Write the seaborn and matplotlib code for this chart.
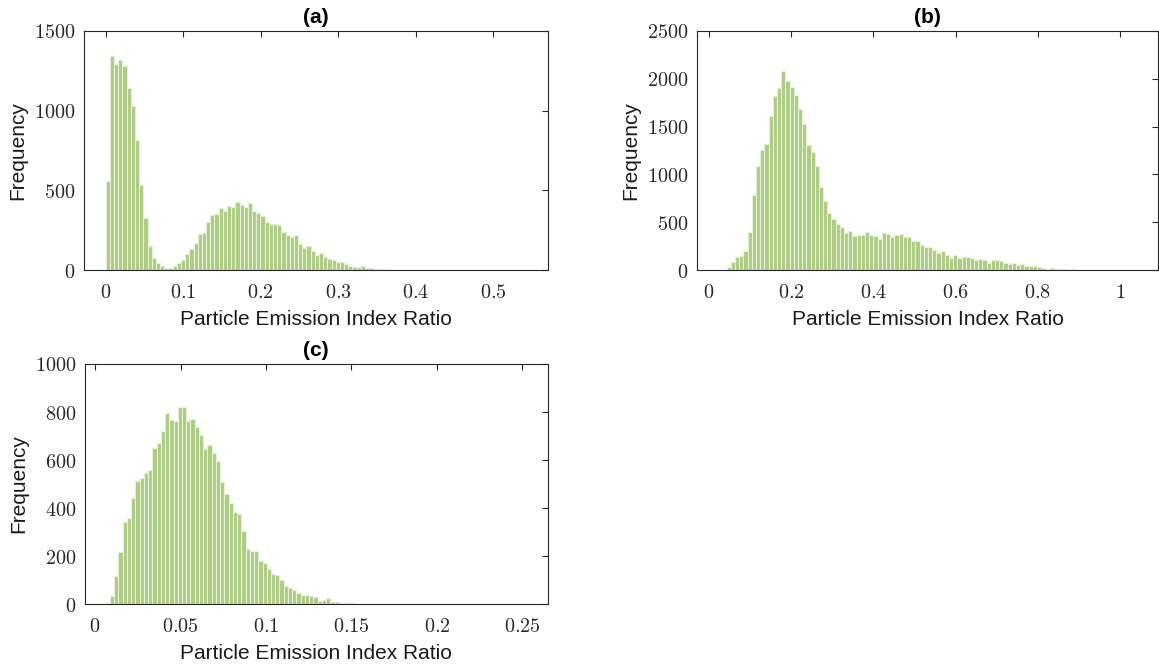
import numpy as np
import pandas as pd
import matplotlib
matplotlib.use("Agg")
import matplotlib.pyplot as plt
import seaborn as sns
from matplotlib.ticker import FuncFormatter

# histogram counts (only visible bins listed)
a_start, a_width = 0.0, 0.0054
a_counts = [559, 1345, 1293, 1316, 1282, 1142, 1027, 814, 533, 326, 151, 75, 42, 23, 10,
            15, 27, 42, 65, 103, 134, 167, 226, 232, 301, 345, 351, 389, 368, 404, 395,
            427, 406, 397, 418, 372, 358, 341, 299, 291, 287, 282, 238, 222, 207, 218,
            163, 136, 151, 119, 94, 109, 82, 67, 63, 50, 50, 36, 25, 21, 17, 25, 13, 13,
            8, 4, 4, 3, 2, 1]

b_start, b_width = 0.043, 0.0102
b_counts = [28, 80, 132, 143, 195, 401, 781, 1091, 1252, 1318, 1607, 1824, 1904, 2078,
            1977, 1918, 1834, 1681, 1527, 1304, 1234, 1091, 872, 725, 600, 530, 481, 446,
            387, 408, 359, 366, 370, 394, 370, 356, 328, 387, 373, 349, 366, 380, 349, 349,
            303, 303, 265, 244, 244, 209, 178, 199, 160, 129, 160, 122, 139, 139, 122, 108,
            115, 101, 73, 108, 101, 98, 70, 63, 70, 56, 63, 45, 38, 42, 31, 21, 14, 21, 14,
            14, 7, 3, 10]

c_start, c_width = 0.0062, 0.00248
c_counts = [3, 32, 115, 217, 343, 358, 443, 514, 526, 546, 560, 651, 672, 721, 796, 767,
            763, 821, 821, 763, 772, 736, 706, 646, 664, 628, 597, 507, 460, 421, 382, 375,
            303, 231, 222, 219, 179, 172, 147, 125, 119, 101, 76, 65, 58, 44, 37, 37, 32,
            28, 14, 18, 24, 10, 8, 6, 5, 4, 4]

panels = [
    ("(a)", a_start, a_width, a_counts, (-0.028, 0.571), [0, 0.1, 0.2, 0.3, 0.4, 0.5], (0, 1500), 500),
    ("(b)", b_start, b_width, b_counts, (-0.029, 1.092), [0, 0.2, 0.4, 0.6, 0.8, 1], (0, 2500), 500),
    ("(c)", c_start, c_width, c_counts, (-0.0062, 0.265), [0, 0.05, 0.1, 0.15, 0.2, 0.25], (0, 1000), 200),
]

sns.set_style("white")
plt.rcParams["font.family"] = ["Liberation Sans", "DejaVu Sans"]
plt.rcParams["mathtext.fontset"] = "cm"

fig = plt.figure(figsize=(11.59, 6.67), dpi=100)
rects = [
    [84 / 1159, 1 - 270 / 667, 464 / 1159, 239 / 667],
    [697 / 1159, 1 - 270 / 667, 461 / 1159, 239 / 667],
    [84.5 / 1159, 1 - 604 / 667, 463.5 / 1159, 240 / 667],
]

bar_face = "#ADCD83"
bar_edge = "#E6F0D8"
tick_fmt = FuncFormatter(lambda v, p: "$%g$" % v)

for rect, (title, start, width, counts, xlim, xticks, ylim, ystep) in zip(rects, panels):
    ax = fig.add_axes(rect)
    n = len(counts)
    lo = start
    hi = start + width * n
    df = pd.DataFrame({"ratio": lo + width * (np.arange(n) + 0.5), "count": counts})
    sns.histplot(data=df, x="ratio", weights="count", bins=n, binrange=(lo, hi), ax=ax,
                 color=bar_face, edgecolor=bar_edge, linewidth=0.8, alpha=1.0)
    ax.set_xlim(*xlim)
    ax.set_ylim(*ylim)
    ax.set_xticks(xticks)
    ax.set_yticks(np.arange(ylim[0], ylim[1] + 1, ystep))
    ax.xaxis.set_major_formatter(tick_fmt)
    ax.yaxis.set_major_formatter(tick_fmt)
    ax.tick_params(direction="in", top=True, right=True, length=4, width=0.8,
                   colors="#262626", labelsize=14.5)
    ax.tick_params(axis="x", pad=9)
    ax.tick_params(axis="y", pad=6)
    for s in ax.spines.values():
        s.set_visible(True)
        s.set_color("#262626")
        s.set_linewidth(0.8)
    ax.set_xlabel("Particle Emission Index Ratio", fontsize=15, color="#1a1a1a", labelpad=6)
    ax.set_ylabel("Frequency", fontsize=15, color="#1a1a1a", labelpad=5)
    ax.set_title(title, fontsize=15, fontweight="bold", color="black", pad=6)

fig.savefig("out.png", dpi=100)
